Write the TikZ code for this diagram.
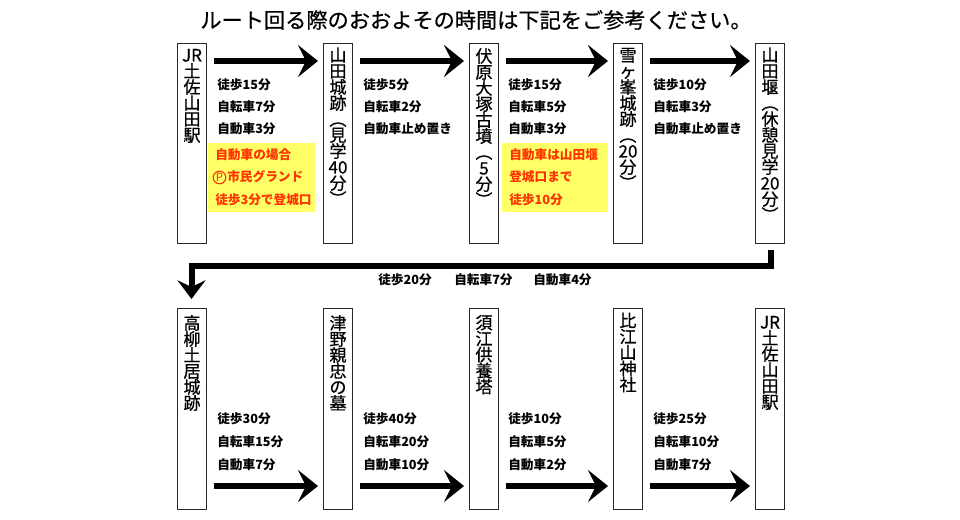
\documentclass[tikz,border=0pt]{standalone}
\usepackage{fontspec}
\usepackage{graphicx}
\setmainfont{Noto Sans CJK JP}
\newfontfamily\vfont[FakeBold=0.6]{Noto Sans CJK JP}
\usetikzlibrary{arrows.meta,calc}
\definecolor{noteyellow}{RGB}{255,255,102}
\definecolor{notered}{RGB}{255,51,0}
\definecolor{boxline}{RGB}{40,40,40}
\newcommand\po{\rotatebox[origin=c]{-90}{（}}
\newcommand\pc{\rotatebox[origin=c]{-90}{）}}
\newcommand\vstack[1]{\vtop{\baselineskip=12pt\lineskiplimit=-20pt\lineskip=0pt\halign{\hfil##\hfil\cr#1\crcr}}}
\begin{document}
\begin{tikzpicture}[x=0.75pt,y=-0.75pt,
  stn/.style={draw=boxline,line width=0.75pt,anchor=north west,inner sep=0pt,minimum width=21.75pt,minimum height=150pt},
  vtxt/.style={anchor=base,inner sep=0pt,font=\vfont\fontsize{12.8}{12}\selectfont},
  lbl/.style={anchor=west,inner sep=0pt,font=\fontsize{9.5}{11}\selectfont\bfseries},
  rlbl/.style={lbl,text=notered},
  pmark/.style={circle,draw=notered,line width=0.8pt,inner sep=0pt,minimum size=9.5pt,text=notered,font=\fontsize{8.5}{10}\selectfont},
  ybox/.style={fill=noteyellow,draw=none,anchor=north west,inner sep=0pt,minimum width=80pt,minimum height=51.75pt},
  bigarr/.style={line width=4.5pt,-{Stealth[length=15pt,width=24pt,inset=6pt]}},
  conn/.style={line width=4.5pt,line join=miter,-{Stealth[length=14pt,width=21pt,inset=5pt]}},
  ttl/.style={inner sep=0pt,font=\vfont\fontsize{15.9}{18}\selectfont}]
\useasboundingbox (0,0) rectangle (960,520);
\fill[white] (0,0) rectangle (960,520);

\node[ttl] (title) at (476,20) {ルート回る際のおおよその時間は下記をご参考ください。};

% top row boxes
\node[stn] (t1) at (177,43) {};
\node[stn] (t2) at (323,43) {};
\node[stn] (t3) at (469,43) {};
\node[stn] (t4) at (613,43) {};
\node[stn] (t5) at (755,43) {};
% bottom row boxes
\node[stn,minimum height=150.75pt] (b1) at (177,308) {};
\node[stn,minimum height=150.75pt] (b2) at (323,308) {};
\node[stn,minimum height=150.75pt] (b3) at (469,308) {};
\node[stn,minimum height=150.75pt] (b4) at (613,308) {};
\node[stn,minimum height=150.75pt] (b5) at (755,308) {};

% vertical names, top
\node[vtxt] (t1n) at ($(t1.north)+(0,18.5)$) {\vstack{JR\cr 土\cr 佐\cr 山\cr 田\cr 駅}};
\node[vtxt] (t2n) at ($(t2.north)+(0,18.5)$) {\vstack{山\cr 田\cr 城\cr 跡\cr \po\cr 見\cr 学\cr 40\cr 分\cr \pc}};
\node[vtxt] (t3n) at ($(t3.north)+(0,19.5)$) {\vstack{伏\cr 原\cr 大\cr 塚\cr 古\cr 墳\cr \po\cr 5\cr 分\cr \pc}};
\node[vtxt] (t4n) at ($(t4.north)+(0,18.5)$) {\vstack{雪\cr ヶ\cr 峯\cr 城\cr 跡\cr \po\cr 20\cr 分\cr \pc}};
\node[vtxt] (t5n) at ($(t5.north)+(0,18.5)$) {\vstack{山\cr 田\cr 堰\cr \po\cr 休\cr 憩\cr 見\cr 学\cr 20\cr 分\cr \pc}};
% vertical names, bottom
\node[vtxt] (b1n) at ($(b1.north)+(0,21.5)$) {\vstack{高\cr 柳\cr 土\cr 居\cr 城\cr 跡}};
\node[vtxt] (b2n) at ($(b2.north)+(0,21.5)$) {\vstack{津\cr 野\cr 親\cr 忠\cr の\cr 墓}};
\node[vtxt] (b3n) at ($(b3.north)+(0,21)$) {\vstack{須\cr 江\cr 供\cr 養\cr 塔}};
\node[vtxt] (b4n) at ($(b4.north)+(0,19)$) {\vstack{比\cr 江\cr 山\cr 神\cr 社}};
\node[vtxt] (b5n) at ($(b5.north)+(0,20.5)$) {\vstack{JR\cr 土\cr 佐\cr 山\cr 田\cr 駅}};

% arrows top
\draw[bigarr] ($(t1.north east)+(7,18)$) -- ($(t2.north west)+(-5,18)$);
\draw[bigarr] ($(t2.north east)+(7,18)$) -- ($(t3.north west)+(-5,18)$);
\draw[bigarr] ($(t3.north east)+(7,18)$) -- ($(t4.north west)+(-5,18)$);
\draw[bigarr] ($(t4.north east)+(7,18)$) -- ($(t5.north west)+(-5,18)$);
% arrows bottom
\draw[bigarr] ($(b1.south east)+(7,-24)$) -- ($(b2.south west)+(-5,-24)$);
\draw[bigarr] ($(b2.south east)+(7,-24)$) -- ($(b3.south west)+(-5,-24)$);
\draw[bigarr] ($(b3.south east)+(7,-24)$) -- ($(b4.south west)+(-5,-24)$);
\draw[bigarr] ($(b4.south east)+(7,-24)$) -- ($(b5.south west)+(-5,-24)$);
% row connector
\draw[conn] ($(t5.south)+(1,6)$) |- ($(b1.north)+(-0.5,-42)$) -- ($(b1.north)+(-0.5,-9)$);

% labels top
\node[lbl] (l1a) at (217,85) {徒歩15分};
\node[lbl] (l1b) at (217,107) {自転車7分};
\node[lbl] (l1c) at (217,129) {自動車3分};
\node[ybox] (y1) at (208,143) {};
\node[rlbl] (r1a) at (215,155) {自動車の場合};
\node[pmark] (r1p) at (219.5,177.5) {P};
\node[rlbl] (r1b) at (227,177) {市民グランド};
\node[rlbl] (r1c) at (215,200) {徒歩3分で登城口};

\node[lbl] (l2a) at (363,85) {徒歩5分};
\node[lbl] (l2b) at (363,107) {自転車2分};
\node[lbl] (l2c) at (363,129) {自動車止め置き};

\node[lbl] (l3a) at (508,85) {徒歩15分};
\node[lbl] (l3b) at (508,107) {自転車5分};
\node[lbl] (l3c) at (508,129) {自動車3分};
\node[ybox,minimum width=79.5pt] (y3) at (502,143) {};
\node[rlbl] (r3a) at (509,155) {自動車は山田堰};
\node[rlbl] (r3b) at (509,177) {登城口まで};
\node[rlbl] (r3c) at (509,200) {徒歩10分};

\node[lbl] (l4a) at (653,85) {徒歩10分};
\node[lbl] (l4b) at (653,107) {自転車3分};
\node[lbl] (l4c) at (653,129) {自動車止め置き};

% middle
\node[lbl] (m1) at (378,280) {徒歩20分};
\node[lbl] (m2) at (454,280) {自転車7分};
\node[lbl] (m3) at (533,280) {自動車4分};

% labels bottom
\node[lbl] (k1a) at (217,419) {徒歩30分};
\node[lbl] (k1b) at (217,442) {自転車15分};
\node[lbl] (k1c) at (217,465) {自動車7分};
\node[lbl] (k2a) at (363,419) {徒歩40分};
\node[lbl] (k2b) at (363,442) {自転車20分};
\node[lbl] (k2c) at (363,465) {自動車10分};
\node[lbl] (k3a) at (508,419) {徒歩10分};
\node[lbl] (k3b) at (508,442) {自転車5分};
\node[lbl] (k3c) at (508,465) {自動車2分};
\node[lbl] (k4a) at (653,419) {徒歩25分};
\node[lbl] (k4b) at (653,442) {自転車10分};
\node[lbl] (k4c) at (653,465) {自動車7分};
\end{tikzpicture}
\end{document}
